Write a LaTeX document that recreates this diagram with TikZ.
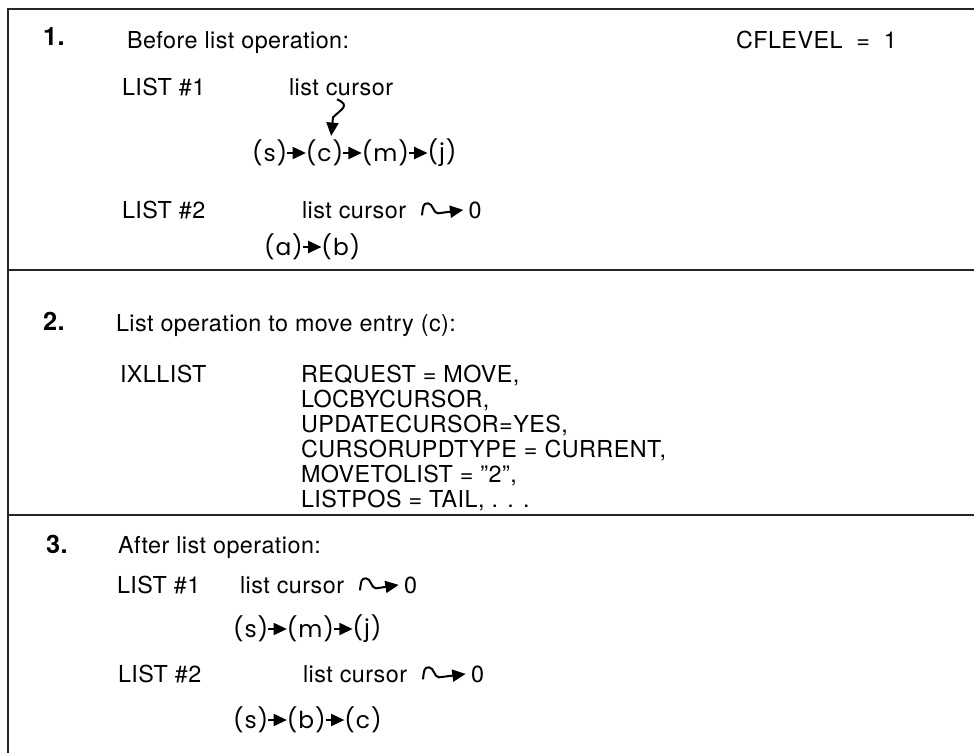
\documentclass[tikz,border=0pt]{standalone}
\usepackage{fontspec}
\setmainfont{TeX Gyre Heros}[LetterSpace=2]
\newfontfamily\entryfont{Poppins}[LetterSpace=4]
\usetikzlibrary{arrows.meta, positioning}

\begin{document}
\begin{tikzpicture}[
    x=0.75pt, y=-0.75pt,
    every node/.style={inner sep=0pt, outer sep=0pt, font=\fontsize{17.5}{19}\selectfont},
    plaintext/.style={anchor=base west},
    steptitle/.style={anchor=base west, font=\fontsize{19}{21}\selectfont\bfseries},
    entry/.style={anchor=west, font=\entryfont\fontsize{17.5}{19}\selectfont},
    listarrow/.style={-{Triangle[length=10pt,width=9pt]}, line width=1.5pt},
    cursorarrow/.style={-{Triangle[length=10pt,width=9pt]}, line width=1.5pt},
    frameline/.style={line width=1.8pt, black!85}
]
    \useasboundingbox (0,0) rectangle (974,753);

    % frame and dividers
    \draw[frameline] (974,9) -| (8,753);
    \draw[frameline] (8,270) -- (974,270);
    \draw[frameline] (8,515) -- (974,515);

    % step 1
    \node[steptitle] (n1) at (43,45) {1.};
    \node[plaintext] (t1) at (127,48) {Before list operation:};
    \node[plaintext] (cf) at (736,48) {CFLEVEL \ = \ 1};

    \node[plaintext] (l11) at (122,95) {LIST \#1};
    \node[plaintext] (lc11) at (289,95) {list cursor};
    \node[entry] (s11) at (252,153) {(s)};
    \node[entry, right=14pt of s11] (c11) {(c)};
    \node[entry, right=14pt of c11] (m11) {(m)};
    \node[entry, right=14pt of m11] (j11) {(j)};
    \draw[listarrow] (s11) -- (c11);
    \draw[listarrow] (c11) -- (m11);
    \draw[listarrow] (m11) -- (j11);
    \draw[cursorarrow] ([xshift=-3pt,yshift=-3pt]lc11.south) .. controls +(14,6) and +(8,-8) .. ++(-4,18) -- ([xshift=5pt,yshift=3pt]c11.north);

    \node[plaintext] (l12) at (122,218) {LIST \#2};
    \node[plaintext] (lc12) at (302,218) {list cursor};
    \node[plaintext, base right=47pt of lc12] (z12) {0};
    \draw[cursorarrow] ([xshift=12pt,yshift=2pt]lc12.base east) .. controls +(1,-9) and +(-5,0) .. ++(6,-12) .. controls +(5,0) and +(-5,0) .. ++(10,10) -- ([xshift=-4pt]z12.west);
    \node[entry] (a12) at (264,247) {(a)};
    \node[entry, right=14pt of a12] (b12) {(b)};
    \draw[listarrow] (a12) -- (b12);

    % step 2
    \node[steptitle] (n2) at (43,330) {2.};
    \node[plaintext] (t2) at (116,331) {List operation to move entry (c):};
    \node[plaintext] (ix) at (120,382) {IXLLIST};
    \node[anchor=north west, align=left, font=\fontsize{17.5}{18.75}\selectfont] (parm) at (301,365) {
        REQUEST = MOVE,\\
        LOCBYCURSOR,\\
        UPDATECURSOR=YES,\\
        CURSORUPDTYPE = CURRENT,\\
        MOVETOLIST = "2",\\
        LISTPOS = TAIL, . . .
    };

    % step 3
    \node[steptitle] (n3) at (46,553) {3.};
    \node[plaintext] (t3) at (118,553) {After list operation:};

    \node[plaintext] (l31) at (117,593) {LIST \#1};
    \node[plaintext] (lc31) at (240,593) {list cursor};
    \node[plaintext, base right=45pt of lc31] (z31) {0};
    \draw[cursorarrow] ([xshift=12pt,yshift=2pt]lc31.base east) .. controls +(1,-9) and +(-5,0) .. ++(6,-12) .. controls +(5,0) and +(-5,0) .. ++(10,10) -- ([xshift=-4pt]z31.west);
    \node[entry] (s31) at (233,629) {(s)};
    \node[entry, right=14pt of s31] (m31) {(m)};
    \node[entry, right=14pt of m31] (j31) {(j)};
    \draw[listarrow] (s31) -- (m31);
    \draw[listarrow] (m31) -- (j31);

    \node[plaintext] (l32) at (118,682) {LIST \#2};
    \node[plaintext] (lc32) at (303,682) {list cursor};
    \node[plaintext, base right=48pt of lc32] (z32) {0};
    \draw[cursorarrow] ([xshift=12pt,yshift=2pt]lc32.base east) .. controls +(1,-9) and +(-5,0) .. ++(6,-12) .. controls +(5,0) and +(-5,0) .. ++(10,10) -- ([xshift=-4pt]z32.west);
    \node[entry] (s32) at (233,720) {(s)};
    \node[entry, right=14pt of s32] (b32) {(b)};
    \node[entry, right=14pt of b32] (c32) {(c)};
    \draw[listarrow] (s32) -- (b32);
    \draw[listarrow] (b32) -- (c32);
\end{tikzpicture}
\end{document}
